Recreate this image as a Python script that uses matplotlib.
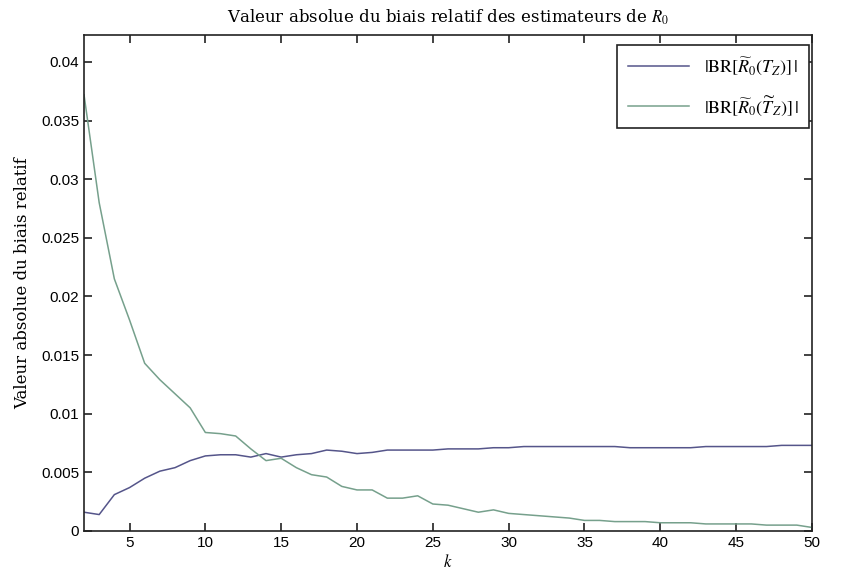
import matplotlib
matplotlib.use("Agg")
import matplotlib.pyplot as plt

k = list(range(2, 51))
br_tz = [0.0016, 0.0014, 0.0031, 0.0037, 0.0045, 0.0051, 0.0054, 0.0060, 0.0064,
         0.0065, 0.0065, 0.0063, 0.0066, 0.0063, 0.0065, 0.0066, 0.0069, 0.0068,
         0.0066, 0.0067, 0.0069, 0.0069, 0.0069, 0.0069, 0.0070, 0.0070, 0.0070,
         0.0071, 0.0071, 0.0072, 0.0072, 0.0072, 0.0072, 0.0072, 0.0072, 0.0072,
         0.0071, 0.0071, 0.0071, 0.0071, 0.0071, 0.0072, 0.0072, 0.0072, 0.0072,
         0.0072, 0.0073, 0.0073, 0.0073]
br_tz_tilde = [0.0372, 0.0280, 0.0215, 0.0180, 0.0143, 0.0129, 0.0117, 0.0105, 0.0084,
               0.0083, 0.0081, 0.0070, 0.0060, 0.0062, 0.0054, 0.0048, 0.0046, 0.0038,
               0.0035, 0.0035, 0.0028, 0.0028, 0.0030, 0.0023, 0.0022, 0.0019, 0.0016,
               0.0018, 0.0015, 0.0014, 0.0013, 0.0012, 0.0011, 0.0009, 0.0009, 0.0008,
               0.0008, 0.0008, 0.0007, 0.0007, 0.0007, 0.0006, 0.0006, 0.0006, 0.0006,
               0.0005, 0.0005, 0.0005, 0.0003]

xticks = [5, 10, 15, 20, 25, 30, 35, 40, 45, 50]
yticks = [0, 0.005, 0.01, 0.015, 0.02, 0.025, 0.03, 0.035, 0.04]
ytick_labels = ["0", "0.005", "0.01", "0.015", "0.02", "0.025", "0.03", "0.035", "0.04"]

plt.rcParams['mathtext.fontset'] = 'stix'

fig = plt.figure(figsize=(8.41, 5.81), dpi=100)
ax = fig.add_axes([0.0999, 0.0861, 0.8656, 0.8537])

ax.plot(k, br_tz, color='#55558a', lw=1.1,
        label=r'$|\mathrm{BR}[\widetilde{R}_0(T_Z)]\,|$')
ax.plot(k, br_tz_tilde, color='#76a08c', lw=1.1,
        label=r'$|\mathrm{BR}[\widetilde{R}_0(\widetilde{T}_Z)]\,|$')

ax.set_xlim(2, 50)
ax.set_ylim(0, 0.0423)
ax.set_xticks(xticks)
ax.set_xticklabels([str(t) for t in xticks], fontfamily='Liberation Sans', fontsize=11)
ax.set_yticks(yticks)
ax.set_yticklabels(ytick_labels, fontfamily='Liberation Sans', fontsize=11)
ax.tick_params(direction='in', top=True, right=True, length=6, width=1.2, color='#222222')
for s in ax.spines.values():
    s.set_linewidth(1.2)
    s.set_color('#222222')

ax.set_title('Valeur absolue du biais relatif des estimateurs de $R_0$',
             fontfamily='DejaVu Serif', fontsize=12, pad=9)
ax.set_xlabel('$k$', fontsize=12, labelpad=2)
ax.set_ylabel('Valeur absolue du biais relatif', fontfamily='DejaVu Serif',
              fontsize=12, labelpad=7)

leg = ax.legend(loc='upper right', fontsize=13, fancybox=False, framealpha=1,
                edgecolor='#222222', handlelength=3.4, borderpad=0.6,
                labelspacing=0.9, borderaxespad=0,
                bbox_to_anchor=(0.996, 0.98))
leg.get_frame().set_linewidth(1.2)

fig.savefig('out.png', dpi=100)
